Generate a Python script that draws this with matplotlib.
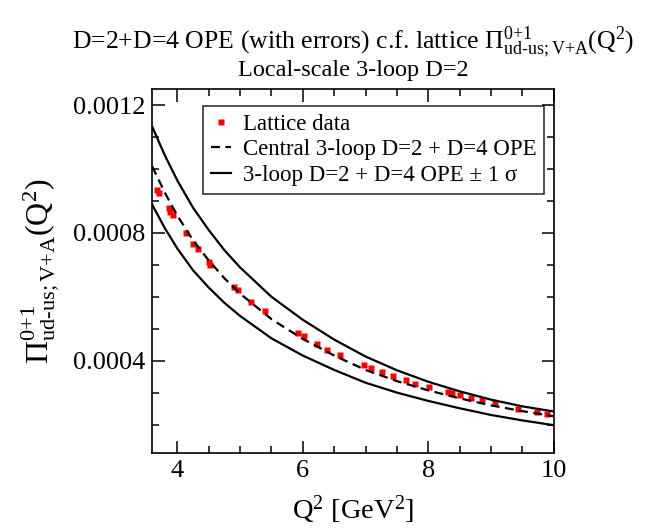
import matplotlib
matplotlib.use("Agg")
import matplotlib.pyplot as plt

plt.rcParams["font.family"] = ["Liberation Serif", "DejaVu Serif"]
plt.rcParams["mathtext.fontset"] = "custom"
plt.rcParams["mathtext.rm"] = "Liberation Serif"
plt.rcParams["mathtext.it"] = "Liberation Serif:italic"
plt.rcParams["mathtext.bf"] = "Liberation Serif:bold"

# lattice points
q2_lat = [3.68, 3.70, 3.87, 3.89, 3.93, 4.13, 4.25, 4.33, 4.51, 4.52, 4.91, 4.96,
          5.17, 5.39, 5.93, 6.02, 6.22, 6.39, 6.60, 6.97, 7.08, 7.27, 7.44, 7.65,
          7.79, 8.01, 8.32, 8.38, 8.50, 8.68, 8.85, 9.07, 9.43, 9.73, 9.90]
pi_lat = [0.000934, 0.000924, 0.000877, 0.000867, 0.000856, 0.000799, 0.000766,
          0.000749, 0.000710, 0.000700, 0.000630, 0.000620, 0.000585, 0.000557,
          0.000487, 0.000476, 0.000452, 0.000434, 0.000417, 0.000385, 0.000377,
          0.000365, 0.000351, 0.000338, 0.000328, 0.000317, 0.000301, 0.000299,
          0.000293, 0.000283, 0.000276, 0.000266, 0.000250, 0.000240, 0.000234]

# OPE curves: central and +/- 1 sigma
q2_ope = [3.6, 3.8, 4.0, 4.25, 4.5, 4.75, 5.0, 5.5, 6.0, 6.5, 7.0, 7.5, 8.0,
          8.5, 9.0, 9.5, 10.0]
ope_central = [1.008e-3, 0.926e-3, 0.854e-3, 0.777e-3, 0.714e-3, 0.658e-3,
               0.610e-3, 0.530e-3, 0.468e-3, 0.416e-3, 0.371e-3, 0.336e-3,
               0.307e-3, 0.282e-3, 0.260e-3, 0.242e-3, 0.226e-3]
ope_upper = [1.132e-3, 1.043e-3, 0.964e-3, 0.879e-3, 0.809e-3, 0.746e-3,
             0.692e-3, 0.600e-3, 0.528e-3, 0.466e-3, 0.413e-3, 0.370e-3,
             0.334e-3, 0.304e-3, 0.278e-3, 0.257e-3, 0.241e-3]
ope_lower = [0.888e-3, 0.815e-3, 0.751e-3, 0.683e-3, 0.629e-3, 0.581e-3,
             0.540e-3, 0.470e-3, 0.416e-3, 0.371e-3, 0.331e-3, 0.300e-3,
             0.274e-3, 0.251e-3, 0.230e-3, 0.213e-3, 0.198e-3]

fig = plt.figure(figsize=(6.48, 5.28), dpi=100)
ax = fig.add_axes([0.235, 0.1415, 0.6195, 0.6895])

ax.plot(q2_lat, pi_lat, "s", color="red", ms=4.5, mec="none", label="Lattice data")
ax.plot(q2_ope, ope_central, color="black", lw=1.6, ls=(0, (4, 2.5)),
        label="Central 3-loop D=2 + D=4 OPE")
ax.plot(q2_ope, ope_upper, color="black", lw=1.6,
        label="3-loop D=2 + D=4 OPE \u00b1 1 \u03c3")
ax.plot(q2_ope, ope_lower, color="black", lw=1.6)

ax.set_xlim(3.6, 10)
ax.set_ylim(0.00011, 0.00125)
ax.set_xticks([4, 6, 8, 10])
ax.set_xticks([4.5, 5, 5.5, 6.5, 7, 7.5, 8.5, 9, 9.5], minor=True)
ax.set_yticks([0.0004, 0.0008, 0.0012])
ax.set_yticks([0.0002, 0.0003, 0.0005, 0.0006, 0.0007, 0.0009, 0.0010, 0.0011],
              minor=True)
ax.set_yticklabels(["0.0004", "0.0008", "0.0012"])
ax.tick_params(which="both", direction="in", top=True, right=True, width=1.1,
               labelsize=19)
ax.tick_params(which="major", length=9, pad=5)
ax.tick_params(which="minor", length=5)
for s in ax.spines.values():
    s.set_linewidth(1.2)

ax.set_xlabel(r"$\mathrm{Q}^2$ [GeV$^2$]", fontsize=20.5, labelpad=8)
ax.set_ylabel(r"$\Pi^{0{+}1}_{\mathrm{ud}\text{-}\mathrm{us;V{+}A}}(\mathrm{Q}^2)$",
              fontsize=23, labelpad=8)

fig.text(0.545, 0.922,
         r"D=2+D=4 OPE (with errors) c.f. lattice "
         r"$\Pi^{0{+}1}_{\mathrm{ud}\text{-}\mathrm{us;V{+}A}}(\mathrm{Q}^2)$",
         ha="center", va="center", fontsize=18.5)
fig.text(0.545, 0.866, "Local-scale 3-loop D=2", ha="center", va="center",
         fontsize=17.5)

leg = ax.legend(loc="upper right", bbox_to_anchor=(0.977, 0.955), borderaxespad=0,
                fontsize=16.5, frameon=True, fancybox=False, numpoints=1,
                handlelength=0.9, handletextpad=0.5, labelspacing=0.2,
                borderpad=0.35)
leg.get_frame().set_edgecolor("black")
leg.get_frame().set_linewidth(1.2)

fig.savefig("out.png", dpi=100)
